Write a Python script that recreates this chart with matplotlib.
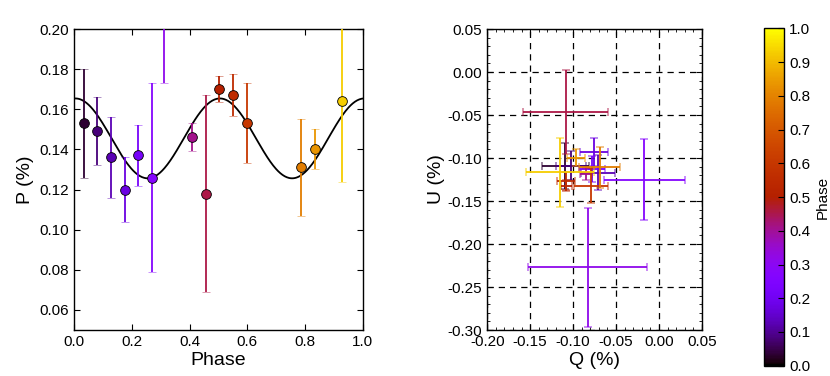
import numpy as np
import matplotlib
matplotlib.use("Agg")
import matplotlib.pyplot as plt
from matplotlib.ticker import MultipleLocator, FormatStrFormatter, AutoMinorLocator

plt.rcParams['font.family'] = ['Liberation Sans', 'DejaVu Sans']
plt.rcParams['xtick.direction'] = 'in'
plt.rcParams['ytick.direction'] = 'in'
plt.rcParams['xtick.top'] = True
plt.rcParams['ytick.right'] = True
plt.rcParams['axes.linewidth'] = 1.0

# phase-binned polarimetry
phase = [0.035, 0.081, 0.128, 0.175, 0.222, 0.270, 0.313, 0.409,
         0.457, 0.503, 0.552, 0.598, 0.787, 0.833, 0.927]
p_pol = [0.153, 0.149, 0.136, 0.120, 0.137, 0.126, 0.242, 0.146,
         0.118, 0.170, 0.167, 0.153, 0.131, 0.140, 0.164]
p_err = [0.027, 0.017, 0.020, 0.016, 0.015, 0.047, 0.069, 0.007,
         0.049, 0.0064, 0.0105, 0.020, 0.024, 0.010, 0.040]
q_pol = [-0.109, -0.1025, -0.071, -0.0758, -0.078, -0.0172, -0.0832, -0.085,
         -0.1088, -0.108, -0.108, -0.079, -0.069, -0.0967, -0.1154]
u_pol = [-0.109, -0.109, -0.117, -0.0928, -0.113, -0.1254, -0.227, -0.1185,
         -0.0462, -0.132, -0.127, -0.132, -0.111, -0.0998, -0.1165]

# double-peaked sinusoid model for P
MODEL_MEAN = 0.1455
MODEL_AMP = 0.0199
MODEL_PHI0 = 0.005

cmap = plt.get_cmap("gnuplot")

fig = plt.figure(figsize=(8.3, 3.76), dpi=100)
ax1 = fig.add_axes([0.0892, 0.1223, 0.348, 0.8005])
ax2 = fig.add_axes([0.587, 0.1223, 0.2587, 0.8005])
cax = fig.add_axes([0.9205, 0.0274, 0.0245, 0.897])

grid = np.linspace(0, 1, 400)
ax1.plot(grid, MODEL_MEAN + MODEL_AMP * np.cos(4 * np.pi * (grid - MODEL_PHI0)),
         color="k", lw=1.3, zorder=2)

for ph, p, e in zip(phase, p_pol, p_err):
    c = cmap(ph)
    _, caps, _ = ax1.errorbar(ph, p, yerr=e, fmt="o", color=c, ecolor=c,
                              mec="k", mew=0.6, ms=7, elinewidth=1.3,
                              capsize=3, capthick=1.3, zorder=3)
    for cp in caps:
        cp.set_alpha(0.5)

ax1.set_xlim(0, 1)
ax1.set_ylim(0.05, 0.20)
ax1.xaxis.set_major_locator(MultipleLocator(0.2))
ax1.yaxis.set_major_locator(MultipleLocator(0.02))
ax1.xaxis.set_major_formatter(FormatStrFormatter("%.1f"))
ax1.yaxis.set_major_formatter(FormatStrFormatter("%.2f"))
ax1.set_yticks(np.arange(0.06, 0.201, 0.02))
ax1.set_xlabel("Phase", fontsize=14, labelpad=2)
ax1.set_ylabel("P (%)", fontsize=14, labelpad=4)
ax1.tick_params(labelsize=11, length=4)

for ph, q, u, e in zip(phase, q_pol, u_pol, p_err):
    c = cmap(ph)
    _, caps, _ = ax2.errorbar(q, u, xerr=e, yerr=e, fmt="none", ecolor=c,
                              elinewidth=1.3, capsize=3, capthick=1.3, zorder=3)
    for cp in caps:
        cp.set_alpha(0.5)

ax2.set_xlim(-0.20, 0.05)
ax2.set_ylim(-0.30, 0.05)
ax2.xaxis.set_major_locator(MultipleLocator(0.05))
ax2.yaxis.set_major_locator(MultipleLocator(0.05))
ax2.xaxis.set_major_formatter(FormatStrFormatter("%.2f"))
ax2.yaxis.set_major_formatter(FormatStrFormatter("%.2f"))
ax2.xaxis.set_minor_locator(AutoMinorLocator(5))
ax2.yaxis.set_minor_locator(AutoMinorLocator(5))
ax2.grid(True, which="major", color="k", ls=(0, (5, 4)), lw=0.9, zorder=1)
ax2.set_axisbelow(True)
ax2.set_xlabel("Q (%)", fontsize=14, labelpad=2)
ax2.set_ylabel("U (%)", fontsize=14, labelpad=2)
ax2.tick_params(labelsize=11, length=4)
ax2.tick_params(which="minor", length=2)

sm = matplotlib.cm.ScalarMappable(cmap=cmap, norm=plt.Normalize(0, 1))
cb = fig.colorbar(sm, cax=cax, ticks=np.arange(0, 1.01, 0.1))
cb.ax.yaxis.set_major_formatter(FormatStrFormatter("%.1f"))
cb.ax.tick_params(labelsize=11, direction="in", length=4)
cb.set_label("Phase", fontsize=11)

fig.savefig("out.png", dpi=100)
